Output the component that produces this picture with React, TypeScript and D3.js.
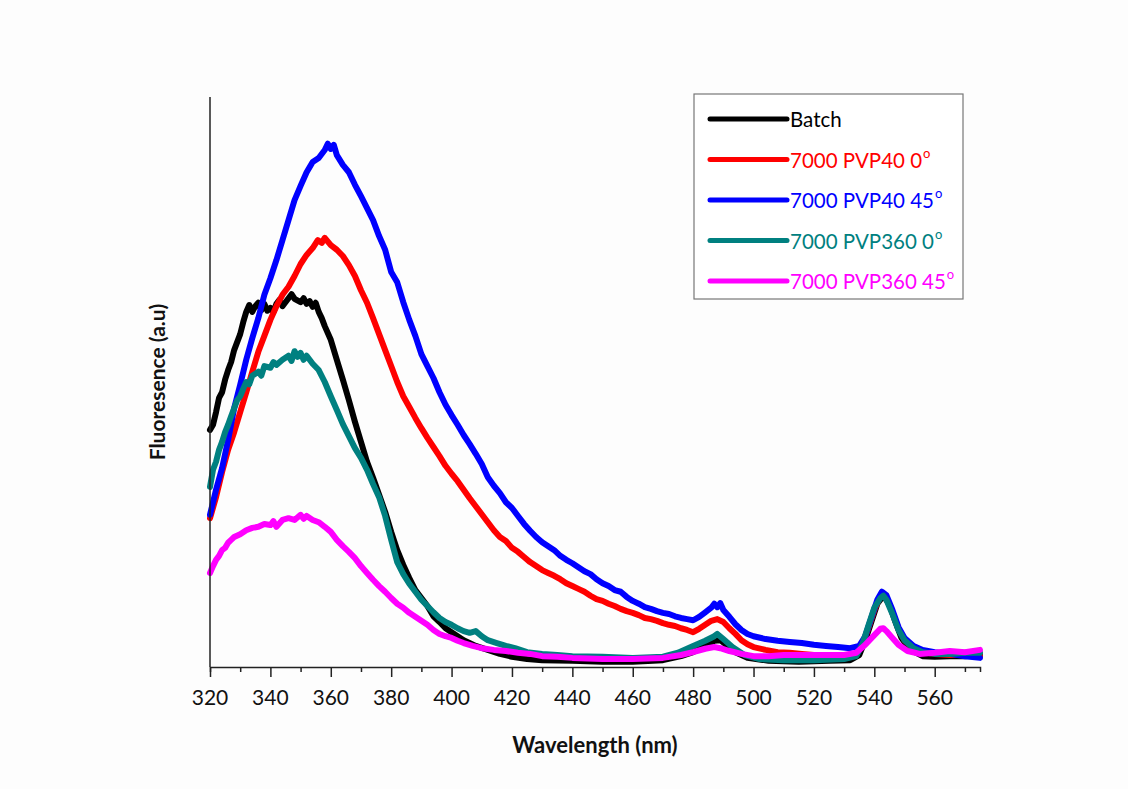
import { useEffect, useRef } from 'react';
import * as d3 from 'd3';

// [wavelength nm, fluorescence a.u.]
const batch: [number, number][] = [
  [320, 41.6], [321, 42.5], [322, 44.7], [323, 47.2], [324, 48.2], [325, 50.4], [326, 52.1], [327, 53.5],
  [328, 55.6], [329, 57.0], [330, 58.4], [331, 60.5], [332, 62.3], [333, 63.5], [334, 62.3], [335, 63.3],
  [336, 63.9], [337, 62.6], [338, 63.7], [339, 62.5], [340, 63.0], [341, 62.3], [342, 63.7], [343, 64.4],
  [344, 63.3], [346, 64.7], [347, 65.4], [348, 64.6], [350, 64.0], [351, 64.7], [352, 63.7], [353, 64.2],
  [354, 63.2], [355, 63.9], [356, 62.3], [357, 61.2], [358, 59.8], [360, 57.4], [362, 53.9], [364, 50.4],
  [366, 46.8], [368, 43.0], [370, 39.5], [372, 36.0], [374, 33.2], [376, 30.2], [378, 27.2], [380, 23.7],
  [382, 20.5], [384, 17.9], [386, 15.6], [388, 13.5], [390, 12.1], [392, 10.7], [394, 8.9], [396, 7.9],
  [398, 6.8], [400, 6.1], [404, 4.7], [408, 3.7], [412, 3.0], [416, 2.3], [420, 1.8], [425, 1.4],
  [430, 1.2], [440, 1.1], [450, 0.9], [460, 0.9], [470, 1.2], [476, 1.9], [480, 2.6], [484, 3.7],
  [487, 4.6], [489, 4.7], [491, 3.9], [494, 2.6], [498, 1.6], [505, 1.1], [515, 0.9], [525, 1.1],
  [532, 1.2], [535, 2.1], [537, 4.7], [539, 7.9], [541, 11.1], [543, 12.5], [545, 11.0], [547, 7.9],
  [549, 5.1], [552, 3.0], [556, 1.9], [560, 1.8], [565, 1.9], [570, 1.9], [575, 2.1],
];

const pvp40_0: [number, number][] = [
  [320, 26.1], [322, 29.8], [324, 34.2], [326, 38.1], [328, 41.2], [330, 44.7], [332, 48.2], [334, 51.8],
  [336, 55.3], [338, 58.1], [340, 60.9], [342, 63.3], [344, 65.3], [346, 66.7], [348, 68.6], [350, 70.7],
  [352, 72.3], [354, 73.5], [355.7, 74.9], [357, 74.4], [358, 75.3], [360, 74.0], [362, 73.2], [364, 72.1],
  [366, 70.5], [368, 68.6], [370, 66.1], [372, 63.9], [374, 61.2], [376, 58.4], [378, 55.6], [380, 52.8],
  [382, 50.0], [384, 47.5], [386, 45.6], [388, 43.7], [390, 41.9], [392, 40.2], [394, 38.6], [396, 37.0],
  [398, 35.3], [400, 33.9], [402, 32.6], [404, 31.1], [406, 29.6], [408, 28.2], [410, 26.8], [412, 25.4],
  [414, 24.0], [416, 22.8], [418, 22.1], [420, 20.9], [422, 20.2], [424, 19.3], [426, 18.4], [428, 17.7],
  [430, 17.0], [432, 16.5], [434, 16.0], [436, 15.4], [438, 14.7], [440, 14.2], [442, 13.7], [444, 13.2],
  [446, 12.5], [448, 11.9], [450, 11.6], [452, 11.1], [454, 10.7], [456, 10.2], [458, 9.8], [460, 9.5],
  [462, 9.1], [464, 8.6], [466, 8.4], [468, 8.1], [470, 7.7], [472, 7.4], [474, 7.2], [476, 6.8],
  [478, 6.5], [480, 6.1], [482, 6.7], [484, 7.4], [486, 8.1], [488, 8.4], [490, 7.9], [492, 6.8],
  [494, 5.8], [496, 4.7], [498, 4.0], [500, 3.5], [504, 3.0], [508, 2.6], [512, 2.5], [516, 2.3],
  [520, 2.1], [525, 1.9], [530, 1.9], [534, 2.3], [536, 3.9], [538, 6.8], [540, 10.0], [542, 12.5],
  [543, 12.8], [544, 12.1], [546, 9.6], [548, 6.8], [550, 4.7], [553, 3.3], [556, 2.6], [560, 2.3],
  [565, 2.1], [570, 2.1], [575, 1.9],
];

const pvp40_45: [number, number][] = [
  [320, 26.7], [322, 31.1], [324, 34.9], [326, 39.8], [328, 45.4], [330, 49.5], [332, 53.9], [334, 57.7],
  [336, 61.2], [338, 65.3], [340, 68.2], [342, 71.4], [344, 74.9], [346, 78.4], [348, 81.9], [350, 84.4],
  [352, 86.8], [354, 88.6], [356, 89.3], [358, 90.7], [359, 91.8], [360, 90.9], [361, 91.6], [362, 89.8],
  [364, 88.1], [366, 86.8], [368, 84.6], [370, 82.6], [372, 80.5], [374, 78.4], [376, 75.6], [378, 73.2],
  [380, 69.3], [382, 67.5], [384, 64.0], [386, 60.9], [388, 58.1], [390, 54.9], [392, 52.8], [394, 50.7],
  [396, 48.2], [398, 46.0], [400, 44.2], [402, 42.5], [404, 40.7], [406, 39.1], [408, 37.4], [410, 35.6],
  [412, 33.3], [414, 31.8], [416, 30.5], [418, 28.9], [420, 27.9], [422, 26.5], [424, 25.1], [426, 23.9],
  [428, 22.8], [430, 21.9], [432, 21.2], [434, 20.5], [436, 19.5], [438, 18.8], [440, 18.2], [442, 17.5],
  [444, 16.8], [446, 16.3], [448, 15.4], [450, 14.7], [452, 14.2], [454, 13.5], [456, 13.2], [458, 12.3],
  [460, 11.6], [462, 11.1], [464, 10.5], [466, 10.2], [468, 9.8], [470, 9.5], [472, 9.3], [474, 8.9],
  [476, 8.6], [478, 8.4], [480, 8.2], [482, 8.8], [484, 9.6], [486, 10.4], [487, 11.1], [488, 10.5],
  [489, 11.2], [490, 10.0], [492, 8.8], [494, 7.5], [496, 6.5], [498, 5.8], [500, 5.4], [504, 4.9],
  [508, 4.6], [512, 4.4], [516, 4.2], [520, 3.9], [524, 3.7], [528, 3.5], [532, 3.3], [535, 3.7],
  [537, 5.4], [539, 8.6], [541, 11.8], [542.5, 13.2], [544, 12.6], [546, 10.0], [548, 7.0], [550, 5.1],
  [553, 3.7], [556, 3.0], [560, 2.6], [565, 2.3], [570, 1.9], [575, 1.6],
];

const pvp360_0: [number, number][] = [
  [320, 31.6], [321, 34.6], [322, 36.0], [323, 38.1], [324, 39.5], [325, 41.2], [326, 42.5], [327, 44.0],
  [328, 45.4], [329, 46.8], [330, 47.5], [331, 48.8], [332, 50.0], [333, 49.6], [334, 51.1], [336, 51.8],
  [337, 51.1], [338, 52.8], [340, 52.5], [341, 53.5], [342, 53.0], [344, 53.9], [346, 54.6], [347, 53.7],
  [348, 55.4], [349, 54.4], [350, 55.1], [351, 53.9], [352, 54.6], [354, 53.2], [356, 52.1], [358, 50.0],
  [360, 47.5], [362, 45.1], [364, 42.6], [366, 40.5], [368, 38.4], [370, 36.7], [372, 34.6], [374, 32.1],
  [376, 29.8], [378, 26.5], [380, 22.3], [382, 18.4], [384, 16.3], [386, 14.6], [388, 13.2], [390, 11.8],
  [392, 10.7], [394, 9.6], [396, 8.6], [398, 7.9], [400, 7.4], [402, 6.8], [404, 6.3], [406, 6.0],
  [408, 6.3], [410, 5.4], [412, 4.7], [415, 4.2], [418, 3.7], [421, 3.3], [425, 2.6], [430, 2.3],
  [435, 2.1], [440, 1.9], [450, 1.8], [460, 1.6], [470, 1.8], [475, 2.5], [480, 3.7], [484, 4.6],
  [487, 5.4], [488, 5.8], [490, 4.9], [493, 3.5], [497, 2.1], [502, 1.4], [510, 1.2], [520, 1.2],
  [530, 1.4], [534, 1.9], [536, 3.9], [538, 7.2], [540, 10.4], [542, 12.1], [543, 12.5], [544, 11.8],
  [546, 9.3], [548, 6.5], [550, 4.7], [553, 3.3], [556, 2.6], [560, 2.3], [565, 2.3], [570, 2.5], [575, 2.5],
];

const pvp360_45: [number, number][] = [
  [320, 16.5], [321, 17.7], [322, 18.8], [323, 19.5], [324, 20.5], [325, 20.9], [326, 21.8], [327, 22.3],
  [328, 22.8], [330, 23.3], [332, 24.0], [334, 24.4], [336, 24.6], [338, 25.1], [340, 24.9], [341, 25.6],
  [342, 24.6], [344, 25.8], [346, 26.1], [348, 25.8], [350, 26.7], [351, 26.0], [352, 26.5], [354, 25.8],
  [356, 25.4], [358, 24.6], [360, 23.7], [362, 22.3], [364, 21.2], [366, 20.2], [368, 19.1], [370, 17.7],
  [372, 16.5], [374, 15.3], [376, 14.2], [378, 13.2], [380, 12.1], [382, 11.1], [384, 10.4], [386, 9.5],
  [388, 8.8], [390, 8.1], [392, 7.4], [394, 6.5], [396, 5.8], [398, 5.4], [400, 5.1], [402, 4.6],
  [404, 4.2], [407, 3.7], [410, 3.3], [414, 3.0], [418, 2.8], [422, 2.5], [426, 2.3], [430, 1.9],
  [435, 1.8], [440, 1.6], [450, 1.4], [460, 1.4], [470, 1.6], [476, 2.1], [480, 2.6], [484, 3.2],
  [487, 3.5], [489, 3.3], [492, 2.8], [496, 2.3], [500, 1.9], [505, 1.9], [510, 2.1], [520, 2.1],
  [530, 2.1], [534, 2.5], [537, 3.9], [540, 5.6], [542, 6.7], [543, 6.8], [544, 6.3], [546, 5.1],
  [548, 3.9], [551, 2.8], [555, 2.3], [560, 2.5], [565, 2.8], [570, 2.6], [575, 3.0],
];

const seriesData = [batch, pvp40_0, pvp40_45, pvp360_0, pvp360_45];
const seriesLabels = ['Batch', '7000 PVP40 0', '7000 PVP40 45', '7000 PVP360 0', '7000 PVP360 45'];
const seriesColors = ['#000000', '#ff0000', '#0000ff', '#008080', '#ff00ff'];
const xTicks = [320, 340, 360, 380, 400, 420, 440, 460, 480, 500, 520, 540, 560];

export default function App() {
  const svgRef = useRef<SVGSVGElement>(null);

  useEffect(() => {
    if (!svgRef.current) return;
    const svg = d3.select(svgRef.current);
    svg.selectAll('*').remove();

    const font = 'Lato, "Open Sans", sans-serif';
    const left = 210, right = 980, top = 97, bottom = 667;

    const x = d3.scaleLinear().domain([320, 575]).range([left, right]);
    const y = d3.scaleLinear().domain([0, 100]).range([bottom, top]);

    svg.append('rect').attr('width', 1128).attr('height', 789).attr('fill', '#fdfdfd');

    // curves
    const line = d3.line<[number, number]>()
      .x(d => x(d[0]))
      .y(d => y(d[1]));

    seriesData.forEach((data, i) => {
      svg.append('path')
        .datum(data)
        .attr('fill', 'none')
        .attr('stroke', seriesColors[i])
        .attr('stroke-width', 6)
        .attr('stroke-linejoin', 'round')
        .attr('stroke-linecap', 'round')
        .attr('d', line);
    });

    // axes
    svg.append('line')
      .attr('x1', left).attr('x2', left).attr('y1', top).attr('y2', bottom)
      .attr('stroke', '#222').attr('stroke-width', 1.5);

    const xAxis = svg.append('g')
      .attr('transform', `translate(0,${bottom})`)
      .call(d3.axisBottom(x).tickValues(d3.range(320, 576, 10)).tickSize(5).tickFormat(() => ''));
    xAxis.select('.domain').attr('stroke', '#222').attr('stroke-width', 1.5);
    xAxis.selectAll('.tick line')
      .attr('stroke', '#222')
      .attr('stroke-width', 1.5)
      .attr('y2', (d: any) => (xTicks.includes(d) ? 10 : 5));

    svg.append('g').selectAll('text')
      .data(xTicks)
      .join('text')
      .attr('x', d => x(d))
      .attr('y', 705)
      .attr('text-anchor', 'middle')
      .attr('font-family', font)
      .attr('font-size', 21)
      .attr('fill', '#111')
      .text(d => d);

    svg.append('text')
      .attr('x', (left + right) / 2)
      .attr('y', 753)
      .attr('text-anchor', 'middle')
      .attr('font-family', font)
      .attr('font-weight', 'bold')
      .attr('font-size', 22)
      .attr('fill', '#111')
      .text('Wavelength (nm)');

    svg.append('text')
      .attr('transform', `translate(165,${(top + bottom) / 2}) rotate(-90)`)
      .attr('text-anchor', 'middle')
      .attr('font-family', font)
      .attr('font-weight', 'bold')
      .attr('font-size', 21)
      .attr('fill', '#111')
      .text('Fluoresence (a.u)');

    // legend
    const legend = svg.append('g').attr('transform', 'translate(694,94)');
    legend.append('rect')
      .attr('width', 269).attr('height', 205)
      .attr('fill', '#fff').attr('stroke', '#777').attr('stroke-width', 1.2);

    seriesLabels.forEach((label, i) => {
      const g = legend.append('g').attr('transform', `translate(0,${25 + i * 40.5})`);
      g.append('line')
        .attr('x1', 16).attr('x2', 93).attr('y1', 0).attr('y2', 0)
        .attr('stroke', seriesColors[i]).attr('stroke-width', 5).attr('stroke-linecap', 'round');
      const t = g.append('text')
        .attr('x', 96).attr('y', 8)
        .attr('font-family', font)
        .attr('font-size', 20.5)
        .attr('fill', seriesColors[i])
        .text(label);
      if (i > 0) {
        t.append('tspan').attr('dx', 1).attr('dy', -10).attr('font-size', 13).text('o');
      }
    });
  }, []);

  return (
    <svg
      ref={svgRef}
      width={1128}
      height={789}
      style={{ position: 'absolute', left: 0, top: 0, display: 'block' }}
    />
  );
}
